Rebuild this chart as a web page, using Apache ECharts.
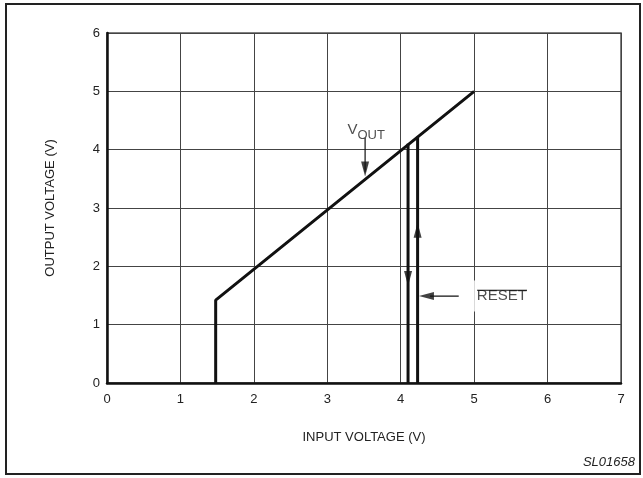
<!DOCTYPE html>
<html>
<head>
<meta charset="utf-8">
<script src="https://cdn.jsdelivr.net/npm/echarts@6/dist/echarts.min.js"></script>
<style>
  html, body { margin: 0; padding: 0; background: #fff; }
  #chart { width: 643px; height: 478px; }
</style>
</head>
<body>
<div id="chart"></div>
<script>
const xTicks = [0, 1, 2, 3, 4, 5, 6, 7];
const yTicks = [0, 1, 2, 3, 4, 5, 6];

// transfer curve and the two reset thresholds
const voutCurve = [[1.48, 0], [1.48, 1.42], [5, 5]];
const resetFalling = [[4.1, 0], [4.1, 4.1]];
const resetRising = [[4.23, 0], [4.23, 4.22]];

// annotation pointers
const voutPointer = [[3.515, 4.2], [3.515, 3.62]];
const resetPointer = [[4.79, 1.49], [4.4, 1.49]];
const arrowHeads = [
  { value: [4.1, 1.79], rot: 180 },
  { value: [4.23, 2.62], rot: 0 },
  { value: [3.515, 3.67], rot: 180 },
  { value: [4.35, 1.49], rot: 90 }
];
const voutLabelAt = [3.515, 4.2];
const resetLabelAt = [4.9, 1.49];
const resetOverline = [[5.04, 1.59], [5.72, 1.59]];

const font = "'Liberation Sans', Arial, Helvetica, sans-serif";
const ink = "#111";

const chart = echarts.init(document.getElementById("chart"));

const thickLine = (data) => ({
  type: "line",
  data,
  symbol: "none",
  lineStyle: { color: ink, width: 3 },
  z: 4,
  silent: true,
  animation: false
});

const thinLine = (data, z) => ({
  type: "line",
  data,
  symbol: "none",
  lineStyle: { color: ink, width: 1.2 },
  z: z || 4,
  silent: true,
  animation: false
});

chart.setOption({
  backgroundColor: "#fff",
  animation: false,
  grid: {
    left: 107,
    right: 22,
    top: 33,
    bottom: 95,
    show: true,
    borderColor: "#555",
    borderWidth: 1.5
  },
  xAxis: {
    type: "value",
    min: xTicks[0],
    max: xTicks[xTicks.length - 1],
    interval: 1,
    name: "INPUT VOLTAGE (V)",
    nameLocation: "middle",
    nameGap: 48,
    nameTextStyle: { fontFamily: font, fontSize: 13, color: "#222" },
    axisLine: { lineStyle: { color: ink, width: 2.5 } },
    axisTick: { show: false },
    axisLabel: { fontFamily: font, fontSize: 13, color: "#222", margin: 10 },
    splitLine: { lineStyle: { color: "#444", width: 1 } }
  },
  yAxis: {
    type: "value",
    min: yTicks[0],
    max: yTicks[yTicks.length - 1],
    interval: 1,
    name: "OUTPUT VOLTAGE (V)",
    nameLocation: "middle",
    nameGap: 50,
    nameRotate: 90,
    nameTextStyle: { fontFamily: font, fontSize: 13, color: "#222" },
    axisLine: { show: true, lineStyle: { color: ink, width: 2.5 } },
    axisTick: { show: false },
    axisLabel: { fontFamily: font, fontSize: 13, color: "#222", margin: 7 },
    splitLine: { lineStyle: { color: "#444", width: 1 } }
  },
  series: [
    thickLine(voutCurve),
    thickLine(resetFalling),
    thickLine(resetRising),
    thinLine(voutPointer),
    thinLine(resetPointer),
    {
      type: "scatter",
      data: arrowHeads.map((a) => ({ value: a.value, symbolRotate: a.rot })),
      symbol: "triangle",
      symbolSize: [8, 15],
      itemStyle: { color: ink },
      z: 5,
      silent: true
    },
    {
      type: "scatter",
      data: [voutLabelAt],
      symbolSize: 0,
      z: 6,
      silent: true,
      label: {
        show: true,
        position: "top",
        distance: 0,
        offset: [1, 4],
        formatter: "{v|V}{s|OUT}",
        rich: {
          v: { fontFamily: font, fontSize: 15, color: "#222", lineHeight: 16, verticalAlign: "top" },
          s: { fontFamily: font, fontSize: 13, color: "#222", lineHeight: 20, verticalAlign: "bottom" }
        }
      }
    },
    {
      type: "scatter",
      data: [resetLabelAt],
      symbolSize: 0,
      z: 6,
      silent: true,
      label: {
        show: true,
        position: "right",
        distance: 0,
        formatter: "RESET",
        fontFamily: font,
        fontSize: 15,
        color: "#222",
        backgroundColor: "#fff",
        padding: [8, 4, 8, 10]
      }
    },
    thinLine(resetOverline, 10)
  ],
  graphic: [
    {
      type: "rect",
      shape: { x: 6, y: 4, width: 634, height: 470 },
      style: { fill: null, stroke: "#222", lineWidth: 2 },
      silent: true
    },
    {
      type: "text",
      right: 8,
      top: 456,
      style: {
        text: "SL01658",
        fontFamily: font,
        fontSize: 13,
        fontStyle: "italic",
        fill: "#222"
      }
    }
  ]
});
</script>
</body>
</html>
